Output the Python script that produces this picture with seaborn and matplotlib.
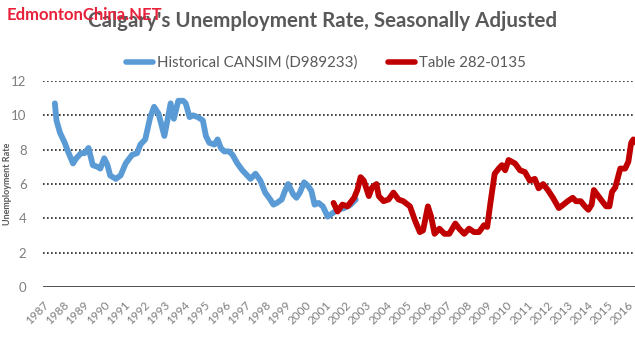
import matplotlib
matplotlib.use("Agg")
import pandas as pd
import matplotlib.pyplot as plt
import seaborn as sns

# Calgary unemployment rate (decimal year, %)
cansim_year = [1987.03, 1987.11, 1987.28, 1987.52, 1987.68, 1987.93, 1988.09, 1988.33, 1988.50, 1988.70,
               1988.91, 1989.15, 1989.28, 1989.48, 1989.64, 1989.77, 1990.05, 1990.29, 1990.54, 1990.86,
               1991.11, 1991.27, 1991.51, 1991.76, 1991.95, 1992.17, 1992.46, 1992.61, 1992.77, 1992.93,
               1993.15, 1993.39, 1993.52, 1993.71, 1993.88, 1994.12, 1994.37, 1994.52, 1994.69, 1994.94,
               1995.10, 1995.26, 1995.43, 1995.67, 1995.84, 1996.08, 1996.33, 1996.57, 1996.73, 1996.98,
               1997.22, 1997.46, 1997.71, 1997.87, 1998.04, 1998.28, 1998.44, 1998.60, 1998.85, 1999.01,
               1999.18, 1999.39, 1999.58, 1999.75, 1999.91, 2000.11, 2000.32, 2000.56, 2000.80, 2001.05,
               2001.38, 2001.70, 2001.95]
cansim_rate = [10.7, 9.7, 9.0, 8.4, 7.9, 7.2, 7.5, 7.8, 7.8, 8.1,
               7.1, 7.0, 6.9, 7.5, 7.1, 6.5, 6.3, 6.5, 7.2, 7.7,
               7.8, 8.3, 8.6, 9.9, 10.5, 10.1, 8.8, 9.7, 10.7, 9.8,
               10.85, 10.85, 10.7, 9.9, 10.0, 9.9, 9.7, 8.8, 8.4, 8.3,
               8.6, 8.1, 7.9, 7.9, 7.7, 7.2, 6.8, 6.5, 6.3, 6.6,
               6.2, 5.5, 5.1, 4.8, 4.9, 5.1, 5.6, 6.0, 5.4, 5.2,
               5.5, 6.1, 5.9, 5.6, 4.8, 4.9, 4.7, 4.1, 4.3, 4.5,
               4.6, 4.8, 5.1]

table_year = [2000.85, 2001.05, 2001.29, 2001.54, 2001.87, 2002.03, 2002.19, 2002.35, 2002.60, 2002.76,
              2002.98, 2003.09, 2003.33, 2003.58, 2003.82, 2004.07, 2004.31, 2004.64, 2004.88, 2005.13,
              2005.29, 2005.53, 2005.69, 2005.86, 2006.10, 2006.35, 2006.59, 2006.89, 2007.08, 2007.33,
              2007.57, 2007.82, 2008.06, 2008.31, 2008.47, 2008.63, 2008.84, 2009.04, 2009.20, 2009.36,
              2009.53, 2009.69, 2009.85, 2010.10, 2010.34, 2010.58, 2010.83, 2011.02, 2011.24, 2011.48,
              2011.73, 2012.02, 2012.25, 2012.46, 2012.71, 2012.87, 2013.11, 2013.32, 2013.49, 2013.65,
              2013.76, 2013.98, 2014.17, 2014.37, 2014.53, 2014.66, 2014.82, 2015.07, 2015.31, 2015.47,
              2015.61, 2015.72, 2015.85]
table_rate = [4.9, 4.4, 4.8, 4.7, 5.2, 5.65, 6.4, 6.2, 5.3, 5.8,
              6.0, 5.3, 5.0, 5.1, 5.5, 5.1, 5.0, 4.7, 3.9, 3.2,
              3.3, 4.7, 4.1, 3.1, 3.4, 3.1, 3.1, 3.7, 3.4, 3.1,
              3.4, 3.2, 3.2, 3.6, 3.5, 4.9, 6.6, 6.9, 7.1, 6.8,
              7.4, 7.3, 7.2, 6.8, 6.7, 6.2, 6.3, 5.75, 6.0, 5.65,
              5.2, 4.6, 4.8, 5.0, 5.2, 5.0, 5.0, 4.7, 4.5, 4.8,
              5.65, 5.3, 5.0, 4.7, 4.7, 5.55, 5.8, 6.9, 6.9, 7.3,
              8.4, 8.6, 8.4]

years = list(range(1987, 2017))
yticks = [0, 2, 4, 6, 8, 10, 12]

df = pd.concat([
    pd.DataFrame({"Year": cansim_year, "Rate": cansim_rate, "Series": "Historical CANSIM (D989233)"}),
    pd.DataFrame({"Year": table_year, "Rate": table_rate, "Series": "Table 282-0135"}),
])

sns.set_style("white")
plt.rcParams["font.family"] = ["Lato", "DejaVu Sans"]

fig = plt.figure(figsize=(6.35, 3.57), dpi=100)
ax = fig.add_axes([0.068, 0.196, 0.932, 0.577])

for y in yticks[1:]:
    ax.axhline(y, color="#222222", lw=1.2, ls=(0, (1, 1.4)), zorder=1)
ax.axhline(0, color="#404040", lw=2, zorder=1)

sns.lineplot(data=df, x="Year", y="Rate", hue="Series",
             palette=["#5B9BD5", "#C00000"], linewidth=4.2, ax=ax,
             legend=False, zorder=3)

ax.set_xlim(1986.85, 2015.8)
ax.set_ylim(0, 12)
ax.set_yticks(yticks)
ax.set_yticklabels([str(t) for t in yticks], color="#7f7f7f", fontsize=9.5)
ax.tick_params(axis="y", length=0, pad=12)
ax.set_xticks([y - 0.55 for y in years])
ax.set_xticklabels([str(y) for y in years], rotation=45, ha="right",
                   rotation_mode="anchor", color="#7f7f7f", fontsize=8.5)
ax.tick_params(axis="x", length=0, pad=9)
for s in ax.spines.values():
    s.set_visible(False)
ax.set_xlabel("")
ax.set_ylabel("Unemployment Rate", fontsize=6.5, fontweight="bold", color="#595959")
ax.yaxis.set_label_coords(-0.052, 0.5)

fig.text(0.508, 1 - 21 / 357, "Calgary's Unemployment Rate, Seasonally Adjusted",
         ha="center", va="center", fontsize=14.8, fontweight="bold", color="#595959")
# site watermark sitting on top of the title, as in the source image
fig.text(0.01, 1 - 15 / 357, "EdmontonChina.NET", ha="left", va="center",
         fontsize=12, fontweight="bold", color="#E8213A", zorder=5)

handles = [plt.Line2D([], [], color="#5B9BD5", lw=4, solid_capstyle="round"),
           plt.Line2D([], [], color="#C00000", lw=4, solid_capstyle="round")]
fig.legend(handles, ["Historical CANSIM (D989233)", "Table 282-0135"],
           loc="center", bbox_to_anchor=(0.513, 1 - 63 / 357), ncol=2, frameon=False,
           fontsize=10.8, handlelength=1.8, handletextpad=0.3, columnspacing=2.0,
           labelcolor="#595959")

fig.savefig("out.png", dpi=100)
